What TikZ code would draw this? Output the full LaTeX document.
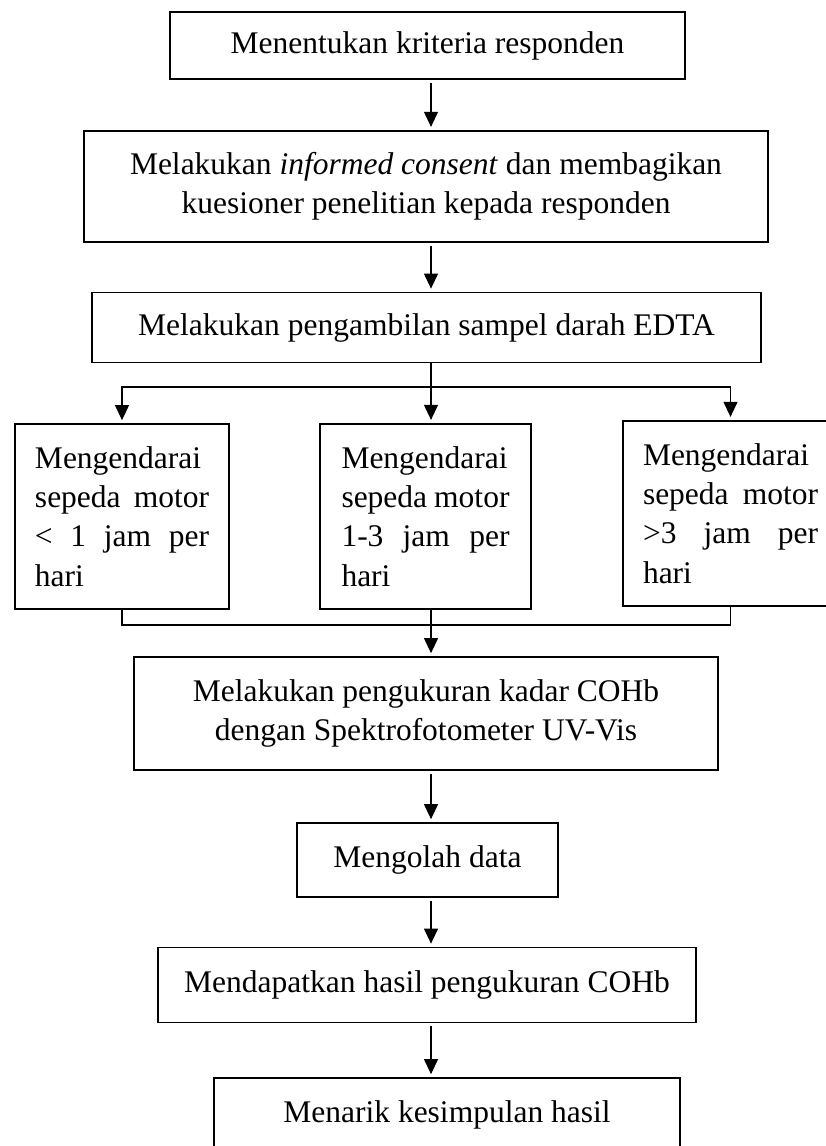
\documentclass[tikz,border=0pt]{standalone}
\usepackage{fontspec}
\setmainfont{Liberation Serif}
\usetikzlibrary{arrows.meta}

\begin{document}
\begin{tikzpicture}[x=0.4pt,y=-0.4pt,
    box/.style={draw,rectangle,line width=0.7pt,inner sep=0pt,align=center,
      font=\fontsize{12.6pt}{15.7pt}\selectfont},
    motorbox/.style={box,align=left,minimum height=74pt},
    arr/.style={-{Triangle[length=6pt,width=5.6pt]},line width=0.45pt,
      shorten <=1.2pt,shorten >=1.2pt},
    link/.style={line width=0.45pt}]
  \def\colx{431}
  \clip (0,0) rectangle (826,1146); %page frame, the right and last box run off it

  \coordinate (col) at (\colx,0);
  \coordinate (split) at (\colx,387);
  \coordinate (merge) at (\colx,625);

  \node[box,minimum width=206pt,minimum height=26.8pt] (kriteria) at (427.5,45.5)
    {Menentukan kriteria responden};
  \node[box,line width=0.9pt,minimum width=273.6pt,minimum height=44.4pt] (consent) at (426,186.5)
    {Melakukan \textit{informed consent} dan membagikan\\ kuesioner penelitian kepada responden};
  \node[box,minimum width=267.6pt,minimum height=28pt] (sampel) at (426.5,327.5)
    {Melakukan pengambilan sampel darah EDTA};

  % the three groups of riders
  \node[motorbox,text width=69.6pt,minimum width=85.6pt] (motorA) at (122,516.5)
    {Mengendarai\\ sepeda\hfill motor\\ <\hfill 1\hfill jam\hfill per\\ hari};
  \node[motorbox,line width=0.9pt,text width=67.2pt,minimum width=84.4pt] (motorB) at (425.5,516.5)
    {Mengendarai\\ sepeda\hfill motor\\ 1-3\hfill jam\hfill per\\ hari};
  \node[motorbox,line width=0.9pt,text width=70pt,minimum width=86pt] (motorC) at (730.5,513.5)
    {Mengendarai\\ sepeda\hfill motor\\ >3\hfill jam\hfill per\\ hari};

  \node[box,minimum width=233.6pt,minimum height=45.2pt] (cohb) at (426,713.5)
    {Melakukan pengukuran kadar COHb\\ dengan Spektrofotometer UV-Vis};
  \node[box,minimum width=104.4pt,minimum height=29.6pt] (olah) at (427.5,860)
    {Mengolah data};
  \node[box,minimum width=215.2pt,minimum height=30pt] (hasil) at (427,985)
    {Mendapatkan hasil pengukuran COHb};
  \node[box,minimum width=186.4pt,minimum height=29.6pt] (simpul) at (447,1115)
    {Menarik kesimpulan hasil};

  \foreach \a/\b in {kriteria/consent,consent/sampel,cohb/olah,olah/hasil,hasil/simpul} { %straight steps
    \draw[arr] (\a.south -| col) -- (\b.north -| col);
  }

  \draw[link] (sampel.south -| col) -- (split);
  \draw[arr,shorten <=0pt] (split) -| (motorA.north);
  \draw[arr,shorten <=0pt] (split) -- (motorB.north -| split);
  \draw[arr,shorten <=0pt] (split) -| (motorC.north);

  \draw[link] (motorA.south) |- (merge) -| (motorC.south);
  \draw[arr,shorten <=0pt] (motorB.south -| col) -- (cohb.north -| col);
\end{tikzpicture}
\end{document}
